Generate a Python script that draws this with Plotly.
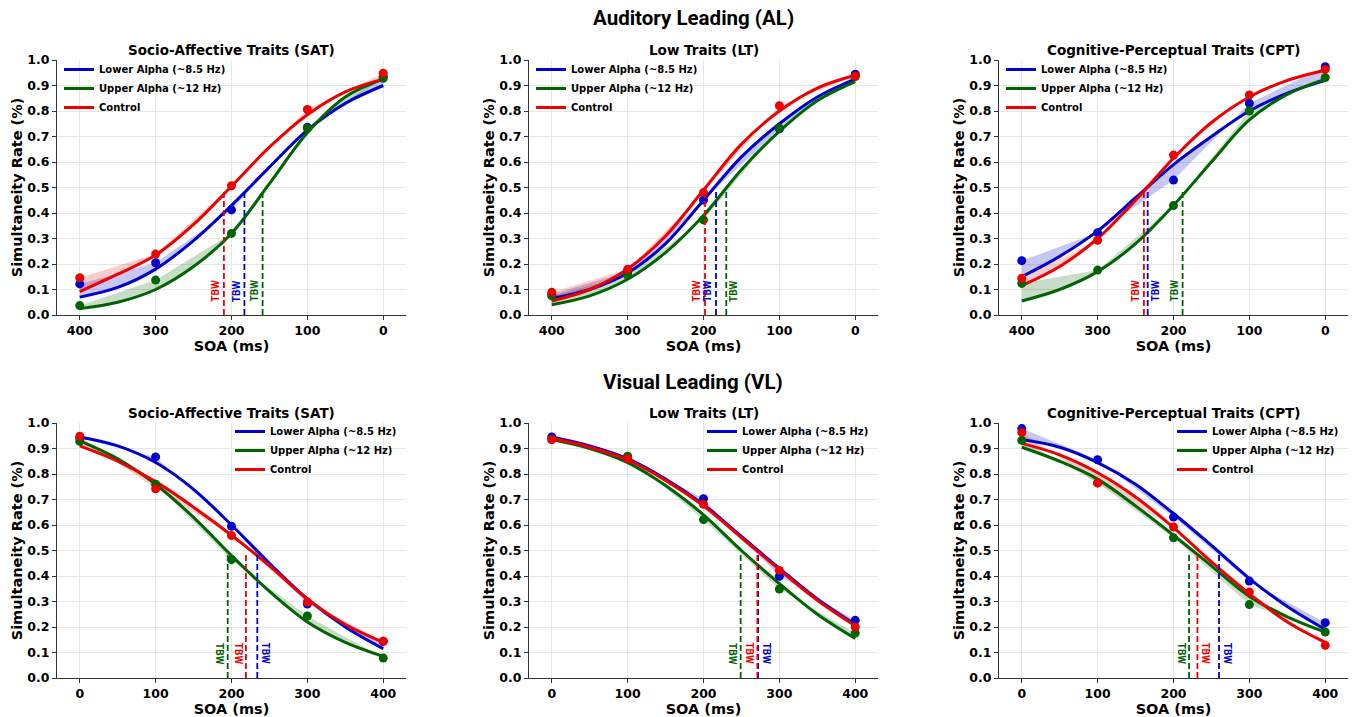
import plotly.graph_objects as go

# ---------------- data ----------------
SERIES = ["Lower Alpha (~8.5 Hz)", "Upper Alpha (~12 Hz)", "Control"]
PANEL_TITLES = ["Socio-Affective Traits (SAT)", "Low Traits (LT)", "Cognitive-Perceptual Traits (CPT)"]
ROW_TITLES = ["Auditory Leading (AL)", "Visual Leading (VL)"]

SOA_AL = [400, 300, 200, 100, 0]
SOA_VL = [0, 100, 200, 300, 400]
FIT_X_AL = [400, 350, 300, 250, 200, 150, 100, 50, 0]
FIT_X_VL = [0, 50, 100, 150, 200, 250, 300, 350, 400]
XTICKS = [0, 100, 200, 300, 400]
YTICKS = [0.0, 0.1, 0.2, 0.3, 0.4, 0.5, 0.6, 0.7, 0.8, 0.9, 1.0]

# observed simultaneity rates (lower alpha, upper alpha, control)
AL_SAT_LOWER = [0.122, 0.205, 0.412, 0.736, 0.935]
AL_SAT_UPPER = [0.037, 0.137, 0.320, 0.732, 0.928]
AL_SAT_CTRL = [0.146, 0.239, 0.507, 0.806, 0.948]
AL_LT_LOWER = [0.080, 0.170, 0.451, 0.730, 0.944]
AL_LT_UPPER = [0.075, 0.156, 0.373, 0.732, 0.935]
AL_LT_CTRL = [0.089, 0.179, 0.480, 0.821, 0.937]
AL_CPT_LOWER = [0.213, 0.323, 0.529, 0.830, 0.974]
AL_CPT_UPPER = [0.124, 0.176, 0.429, 0.800, 0.931]
AL_CPT_CTRL = [0.144, 0.293, 0.627, 0.863, 0.963]
VL_SAT_LOWER = [0.941, 0.867, 0.595, 0.290, 0.144]
VL_SAT_UPPER = [0.928, 0.760, 0.464, 0.243, 0.078]
VL_SAT_CTRL = [0.948, 0.742, 0.559, 0.298, 0.144]
VL_LT_LOWER = [0.945, 0.864, 0.703, 0.399, 0.226]
VL_LT_UPPER = [0.935, 0.870, 0.621, 0.349, 0.176]
VL_LT_CTRL = [0.935, 0.860, 0.681, 0.422, 0.200]
VL_CPT_LOWER = [0.978, 0.856, 0.631, 0.380, 0.217]
VL_CPT_UPPER = [0.932, 0.765, 0.550, 0.288, 0.180]
VL_CPT_CTRL = [0.963, 0.765, 0.592, 0.337, 0.128]

# fitted psychometric curves, read at the FIT_X positions
AL_SAT_LOWER_FIT = [0.070, 0.108, 0.180, 0.292, 0.430, 0.580, 0.725, 0.830, 0.900]
AL_SAT_UPPER_FIT = [0.025, 0.050, 0.100, 0.190, 0.320, 0.515, 0.715, 0.855, 0.925]
AL_SAT_CTRL_FIT = [0.092, 0.160, 0.235, 0.355, 0.505, 0.658, 0.785, 0.875, 0.925]
AL_LT_LOWER_FIT = [0.065, 0.100, 0.165, 0.280, 0.450, 0.620, 0.750, 0.855, 0.925]
AL_LT_UPPER_FIT = [0.040, 0.075, 0.140, 0.245, 0.390, 0.570, 0.720, 0.840, 0.915]
AL_LT_CTRL_FIT = [0.055, 0.100, 0.180, 0.310, 0.490, 0.670, 0.800, 0.890, 0.940]
AL_CPT_LOWER_FIT = [0.150, 0.230, 0.330, 0.460, 0.590, 0.700, 0.800, 0.870, 0.920]
AL_CPT_UPPER_FIT = [0.055, 0.100, 0.170, 0.280, 0.430, 0.600, 0.765, 0.865, 0.925]
AL_CPT_CTRL_FIT = [0.115, 0.190, 0.300, 0.450, 0.615, 0.755, 0.855, 0.920, 0.960]
VL_SAT_LOWER_FIT = [0.945, 0.910, 0.845, 0.740, 0.600, 0.450, 0.310, 0.200, 0.115]
VL_SAT_UPPER_FIT = [0.930, 0.860, 0.760, 0.630, 0.480, 0.340, 0.220, 0.140, 0.085]
VL_SAT_CTRL_FIT = [0.910, 0.850, 0.770, 0.670, 0.560, 0.440, 0.310, 0.210, 0.140]
VL_LT_LOWER_FIT = [0.945, 0.910, 0.860, 0.780, 0.680, 0.555, 0.430, 0.310, 0.210]
VL_LT_UPPER_FIT = [0.935, 0.900, 0.845, 0.755, 0.640, 0.500, 0.370, 0.250, 0.155]
VL_LT_CTRL_FIT = [0.940, 0.905, 0.855, 0.775, 0.675, 0.550, 0.425, 0.305, 0.205]
VL_CPT_LOWER_FIT = [0.935, 0.905, 0.845, 0.760, 0.645, 0.520, 0.390, 0.280, 0.190]
VL_CPT_UPPER_FIT = [0.905, 0.850, 0.780, 0.675, 0.560, 0.440, 0.320, 0.240, 0.180]
VL_CPT_CTRL_FIT = [0.920, 0.875, 0.805, 0.710, 0.590, 0.455, 0.330, 0.220, 0.140]

# temporal binding windows (ms): lower, upper, control
AL_SAT_TBW = [183, 159, 210]
AL_LT_TBW = [183.5, 170, 198]
AL_CPT_TBW = [234, 188, 239]
VL_SAT_TBW = [234, 195, 219]
VL_LT_TBW = [272, 249, 271]
VL_CPT_TBW = [260, 220.5, 231.5]
TBW_LEVEL = 0.485

PANELS = [
    (SOA_AL, FIT_X_AL, [AL_SAT_LOWER, AL_SAT_UPPER, AL_SAT_CTRL], [AL_SAT_LOWER_FIT, AL_SAT_UPPER_FIT, AL_SAT_CTRL_FIT], AL_SAT_TBW),
    (SOA_AL, FIT_X_AL, [AL_LT_LOWER, AL_LT_UPPER, AL_LT_CTRL], [AL_LT_LOWER_FIT, AL_LT_UPPER_FIT, AL_LT_CTRL_FIT], AL_LT_TBW),
    (SOA_AL, FIT_X_AL, [AL_CPT_LOWER, AL_CPT_UPPER, AL_CPT_CTRL], [AL_CPT_LOWER_FIT, AL_CPT_UPPER_FIT, AL_CPT_CTRL_FIT], AL_CPT_TBW),
    (SOA_VL, FIT_X_VL, [VL_SAT_LOWER, VL_SAT_UPPER, VL_SAT_CTRL], [VL_SAT_LOWER_FIT, VL_SAT_UPPER_FIT, VL_SAT_CTRL_FIT], VL_SAT_TBW),
    (SOA_VL, FIT_X_VL, [VL_LT_LOWER, VL_LT_UPPER, VL_LT_CTRL], [VL_LT_LOWER_FIT, VL_LT_UPPER_FIT, VL_LT_CTRL_FIT], VL_LT_TBW),
    (SOA_VL, FIT_X_VL, [VL_CPT_LOWER, VL_CPT_UPPER, VL_CPT_CTRL], [VL_CPT_LOWER_FIT, VL_CPT_UPPER_FIT, VL_CPT_CTRL_FIT], VL_CPT_TBW),
]

# ---------------- style ----------------
W, H = 1354, 717
COLORS = ["#0000CD", "#006400", "#EE0000"]
FILLS = ["rgba(0,0,205,0.22)", "rgba(0,100,0,0.22)", "rgba(238,0,0,0.2)"]
FONT = "DejaVu Sans"
NARROW = "Roboto, DejaVu Sans, sans-serif"
COL_PX = [(57, 406), (529, 878), (999, 1348)]
ROW_PX = [(60, 315), (423, 678)]
# side of TBW label relative to its line (-1 screen-left, +1 screen-right)
LABEL_SIDE = [
    [-1, -1, -1],
    [-1, 1, -1],
    [1, -1, -1],
    [1, -1, -1],
    [1, -1, -1],
    [1, -1, 1],
]

fig = go.Figure()
annotations = []

for p, (soa, fitx, pts, fits, tbw) in enumerate(PANELS):
    row, col = divmod(p, 3)
    suffix = "" if p == 0 else str(p + 1)
    xa, ya = "x" + suffix, "y" + suffix
    leg = "legend" + suffix
    # bands between observed points and fitted curve
    for s in range(3):
        fig.add_trace(go.Scatter(x=soa, y=pts[s], mode="lines", line=dict(width=0, color=COLORS[s]),
                                 showlegend=False, hoverinfo="skip", xaxis=xa, yaxis=ya))
        fig.add_trace(go.Scatter(x=fitx, y=fits[s], mode="lines",
                                 line=dict(width=0, color=COLORS[s], shape="spline"),
                                 fill="tonexty", fillcolor=FILLS[s],
                                 showlegend=False, hoverinfo="skip", xaxis=xa, yaxis=ya))
    # fitted curves
    for s in range(3):
        fig.add_trace(go.Scatter(x=fitx, y=fits[s], mode="lines", name=SERIES[s],
                                 line=dict(width=3, color=COLORS[s], shape="spline"),
                                 legend=leg, showlegend=True, xaxis=xa, yaxis=ya))
    # observed points
    for s in range(3):
        fig.add_trace(go.Scatter(x=soa, y=pts[s], mode="markers",
                                 marker=dict(size=9, color=COLORS[s]),
                                 showlegend=False, xaxis=xa, yaxis=ya))
    # TBW lines + labels
    for s in range(3):
        fig.add_trace(go.Scatter(x=[tbw[s], tbw[s]], y=[0, TBW_LEVEL], mode="lines",
                                 line=dict(width=1.8, color=COLORS[s], dash="6px,3px"),
                                 showlegend=False, hoverinfo="skip", xaxis=xa, yaxis=ya))
        annotations.append(dict(x=tbw[s], y=0.095, xref=xa, yref=ya, text="TBW",
                                showarrow=False, textangle=-90 if row == 0 else 90,
                                xshift=8 * LABEL_SIDE[p][s],
                                font=dict(family=NARROW, size=10, color=COLORS[s], weight="bold")))

    x0, x1 = COL_PX[col]
    y0, y1 = ROW_PX[row]
    rng = [430, -30] if row == 0 else [-30, 430]
    fig.layout["xaxis" + suffix] = dict(
        domain=[x0 / W, x1 / W], anchor=ya, range=rng, tickvals=XTICKS, automargin=False,
        showgrid=True, gridcolor="#e6e6e6", gridwidth=1, zeroline=False,
        showline=True, linecolor="#333333", linewidth=1.2, ticks="outside", ticklen=4,
        tickcolor="#333333", tickfont=dict(family=FONT, size=12.5, color="black", weight="bold"),
        title=dict(text="SOA (ms)", standoff=0, font=dict(family=FONT, size=14.5, color="black", weight="bold")),
    )
    fig.layout["yaxis" + suffix] = dict(
        domain=[1 - y1 / H, 1 - y0 / H], anchor=xa, range=[0, 1.0], tickvals=YTICKS, automargin=False,
        tickformat=".1f", showgrid=True, gridcolor="#e6e6e6", gridwidth=1, zeroline=False,
        showline=True, linecolor="#333333", linewidth=1.2, ticks="outside", ticklen=4,
        tickcolor="#333333", tickfont=dict(family=FONT, size=12.5, color="black", weight="bold"),
        title=dict(text="Simultaneity Rate (%)", standoff=1,
                   font=dict(family=FONT, size=14.5, color="black", weight="bold")),
    )
    # panel title
    annotations.append(dict(x=(x0 + x1) / 2 / W, y=1 - (y0 - 10) / H, xref="paper", yref="paper",
                            text="<b>%s</b>" % PANEL_TITLES[col], showarrow=False,
                            xanchor="center", yanchor="middle",
                            font=dict(family=FONT, size=13.5, color="black")))
    # legend
    if row == 0:
        ldict = dict(x=(x0 + 2) / W, xanchor="left", y=1 - (y0 - 5) / H, yanchor="top")
    else:
        ldict = dict(x=(x1 - 4) / W, xanchor="right", y=1 - (y0 - 6) / H, yanchor="top")
    ldict.update(bgcolor="rgba(255,255,255,0)", borderwidth=0, traceorder="normal",
                 font=dict(family=FONT, size=10, color="black", weight="bold"),
                 itemwidth=30, tracegroupgap=0)
    fig.layout[leg] = ldict

for r, t in enumerate(ROW_TITLES):
    annotations.append(dict(x=693 / W, y=1 - (18 if r == 0 else 382) / H, xref="paper", yref="paper",
                            text=t, showarrow=False, xanchor="center", yanchor="middle",
                            font=dict(family=NARROW, size=20.5, color="black", weight="bold")))

fig.update_layout(
    width=W, height=H, margin=dict(l=0, r=0, t=0, b=0, autoexpand=False),
    paper_bgcolor="white", plot_bgcolor="white",
    annotations=annotations, font=dict(family=FONT),
)

fig.write_html("out.html")
